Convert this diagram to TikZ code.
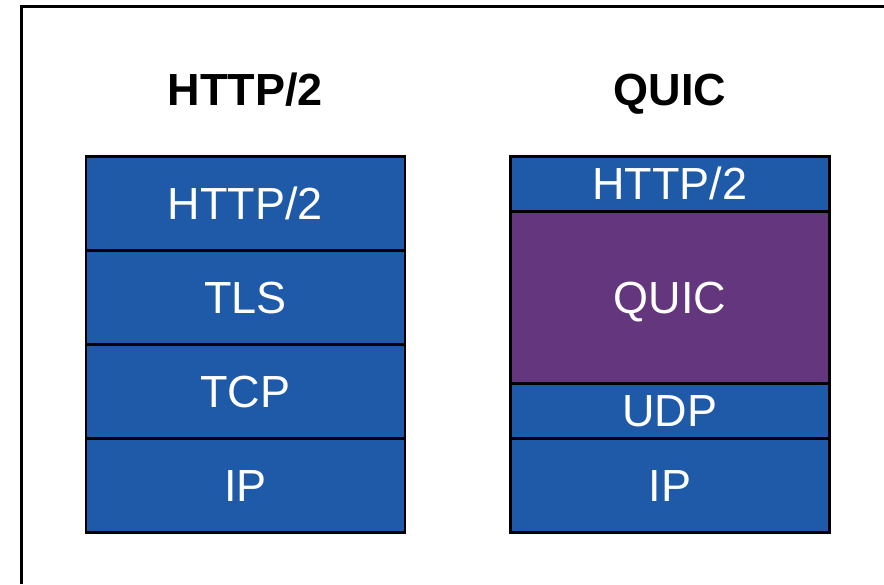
\documentclass[tikz,border=0pt]{standalone}
\usepackage{fontspec}
\setmainfont{Liberation Sans}
\usepackage{xcolor}
\usepackage{tikz}
\usetikzlibrary{positioning}

\definecolor{azulcamada}{RGB}{31,90,168}
\definecolor{roxoquic}{RGB}{99,54,126}

\begin{document}
\begin{tikzpicture}[
  x=0.5pt, y=-0.5pt,
  camada/.style={draw=black, line width=1.3pt, fill=azulcamada, text=white,
                 anchor=north, minimum width=159.5pt, inner sep=0pt,
                 font=\fontsize{22.5}{27}\selectfont,
                 text height=16.1pt, text depth=0pt},
  titulo/.style={inner sep=0pt, font=\fontsize{22.5}{27}\selectfont\bfseries,
                 text height=16.1pt, text depth=0pt},
  moldura/.style={line width=1.5pt}
]
\useasboundingbox (0,0) rectangle (884,584);

% ---------- Moldura (cortada a direita e embaixo) ----------
\draw[moldura] (21.5,584) -- (21.5,6.5) -- (884,6.5);

% ---------- Titulos ----------
\node[titulo] (tith2) at (245.5,89.5) {HTTP/2};
\node[titulo] (titquic) at (670,89.5) {QUIC};

% ---------- Pilha HTTP/2 ----------
\node[camada, minimum height=47pt] (h2app) at (245.5,155) {HTTP/2};
\node[camada, minimum height=47pt] (h2tls) at (245.5,249) {TLS};
\node[camada, minimum height=47pt] (h2tcp) at (245.5,343) {TCP};
\node[camada, minimum height=47pt] (h2ip)  at (245.5,437) {IP};

% ---------- Pilha QUIC ----------
\node[camada, minimum height=27.5pt] (qapp) at (670,155) {HTTP/2};
\node[camada, minimum height=86pt, fill=roxoquic] (qquic) at (670,210) {QUIC};
\node[camada, minimum height=27.5pt] (qudp) at (670,382) {UDP};
\node[camada, minimum height=47pt] (qip)  at (670,437) {IP};

\end{tikzpicture}
\end{document}
